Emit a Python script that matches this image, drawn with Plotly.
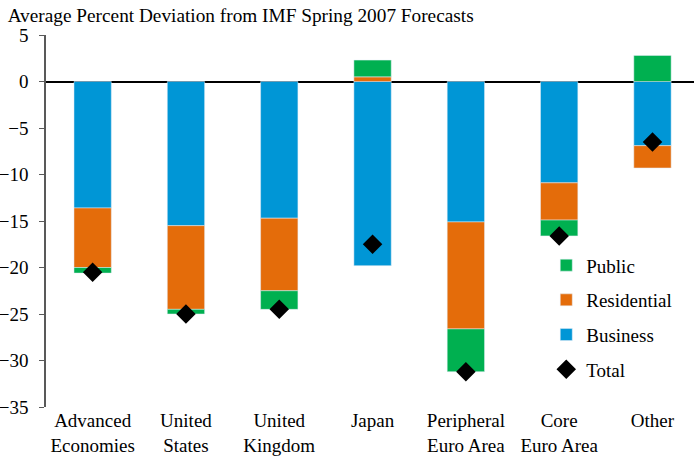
import plotly.graph_objects as go

categories = ["Advanced<br>Economies", "United<br>States", "United<br>Kingdom", "Japan",
              "Peripheral<br>Euro Area", "Core<br>Euro Area", "Other"]
business = [-13.6, -15.5, -14.7, -19.8, -15.1, -10.9, -6.9]
residential = [-6.4, -9.0, -7.8, 0.5, -11.5, -4.0, -2.4]
public = [-0.6, -0.5, -2.0, 1.8, -4.6, -1.7, 2.8]
total = [-20.5, -25.0, -24.5, -17.5, -31.2, -16.6, -6.5]
yticks = [5, 0, -5, -10, -15, -20, -25, -30, -35]

FONT = "Liberation Serif"
FS = 19
x = list(range(len(categories)))

fig = go.Figure()
fig.add_trace(go.Bar(x=x, y=business, name="Business", marker_color="#0096D6",
                     width=0.4, legendrank=3, legendgroup="b"))
fig.add_trace(go.Bar(x=x, y=residential, name="Residential", marker_color="#E46C0A",
                     width=0.4, legendrank=2, legendgroup="r"))
fig.add_trace(go.Bar(x=x, y=public, name="Public", marker_color="#00B050",
                     width=0.4, legendrank=1, legendgroup="p"))
fig.add_trace(go.Scatter(x=x, y=total, name="Total", mode="markers",
                         marker=dict(symbol="diamond", size=15, color="black"),
                         legendrank=4, legendgroup="t"))

fig.update_layout(
    width=694, height=458,
    margin=dict(l=46, r=0, t=35, b=51),
    barmode="relative",
    plot_bgcolor="white", paper_bgcolor="white",
    font=dict(family=FONT, size=FS, color="black"),
    title=dict(text="Average Percent Deviation from IMF Spring 2007 Forecasts",
               x=0.011, xanchor="left", y=0.967, yanchor="middle",
               font=dict(family=FONT, size=19.3, color="black")),
    legend=dict(x=0.772, y=0.432, xanchor="left", yanchor="top",
                font=dict(family=FONT, size=FS), tracegroupgap=7,
                bgcolor="rgba(0,0,0,0)", itemwidth=30),
    showlegend=True,
)
fig.update_xaxes(tickmode="array", tickvals=x, ticktext=categories,
                 range=[-0.5, 6.445], showgrid=False, showline=False,
                 ticks="", automargin=False, tickfont=dict(family=FONT, size=FS))
fig.update_yaxes(range=[-35, 5], tickvals=yticks, showgrid=False,
                 showline=True, linecolor="#595959", linewidth=1.5,
                 ticks="outside", ticklen=5, tickcolor="#595959",
                 ticklabelstandoff=7,
                 zeroline=True, zerolinecolor="black", zerolinewidth=1.5,
                 automargin=False, tickfont=dict(family=FONT, size=FS))

fig.write_html("out.html", config={"displayModeBar": False},
               post_script="document.body.style.margin='0';")
